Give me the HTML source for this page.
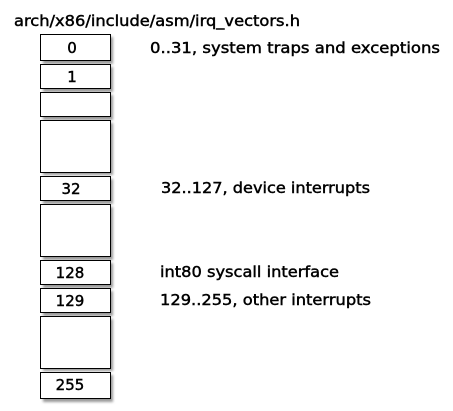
<!DOCTYPE html>
<html><head><style>
body{margin:0;width:453px;height:407px;background:#fff;overflow:hidden;font-family:"DejaVu Sans","Liberation Sans",sans-serif;}
</style></head><body>
<svg width="453" height="407" xmlns="http://www.w3.org/2000/svg" font-family="DejaVu Sans, Liberation Sans, sans-serif" font-size="15" fill="#000">
<defs><filter id="s" x="-20%" y="-20%" width="150%" height="150%"><feGaussianBlur stdDeviation="1.2"/></filter></defs>
<g>
<rect x="43" y="37" width="70" height="27" fill="#999" filter="url(#s)"/>
<rect x="43" y="67" width="70" height="25" fill="#999" filter="url(#s)"/>
<rect x="43" y="95" width="70" height="25" fill="#999" filter="url(#s)"/>
<rect x="43" y="123" width="70" height="52" fill="#999" filter="url(#s)"/>
<rect x="43" y="179" width="70" height="25" fill="#999" filter="url(#s)"/>
<rect x="43" y="207" width="70" height="53" fill="#999" filter="url(#s)"/>
<rect x="43" y="263" width="70" height="25" fill="#999" filter="url(#s)"/>
<rect x="43" y="291" width="70" height="25" fill="#999" filter="url(#s)"/>
<rect x="43" y="319" width="70" height="52" fill="#999" filter="url(#s)"/>
<rect x="43" y="375" width="70" height="27" fill="#999" filter="url(#s)"/>
</g>
<g fill="#fff" stroke="#000" stroke-width="1">
<rect x="40.5" y="34.5" width="70" height="26"/>
<rect x="40.5" y="64.5" width="70" height="24"/>
<rect x="40.5" y="92.5" width="70" height="24"/>
<rect x="40.5" y="120.5" width="70" height="52"/>
<rect x="40.5" y="176.5" width="70" height="24"/>
<rect x="40.5" y="204.5" width="70" height="52"/>
<rect x="40.5" y="260.5" width="70" height="24"/>
<rect x="40.5" y="288.5" width="70" height="24"/>
<rect x="40.5" y="316.5" width="70" height="52"/>
<rect x="40.5" y="372.5" width="70" height="26"/>
</g>
<g stroke="#000" stroke-width="0.45">
<text x="14" y="26" textLength="286" lengthAdjust="spacingAndGlyphs">arch/x86/include/asm/irq_vectors.h</text>
<g text-anchor="middle">
<text x="72" y="53">0</text>
<text x="72" y="82">1</text>
<text x="71" y="194">32</text>
<text x="70" y="278">128</text>
<text x="70" y="306">129</text>
<text x="70" y="390">255</text>
</g>
<text x="150" y="53" textLength="290" lengthAdjust="spacingAndGlyphs">0..31, system traps and exceptions</text>
<text x="161" y="193" textLength="209" lengthAdjust="spacingAndGlyphs">32..127, device interrupts</text>
<text x="160" y="277" textLength="179" lengthAdjust="spacingAndGlyphs">int80 syscall interface</text>
<text x="160" y="305" textLength="211" lengthAdjust="spacingAndGlyphs">129..255, other interrupts</text>
</g>
</svg>
</body></html>
